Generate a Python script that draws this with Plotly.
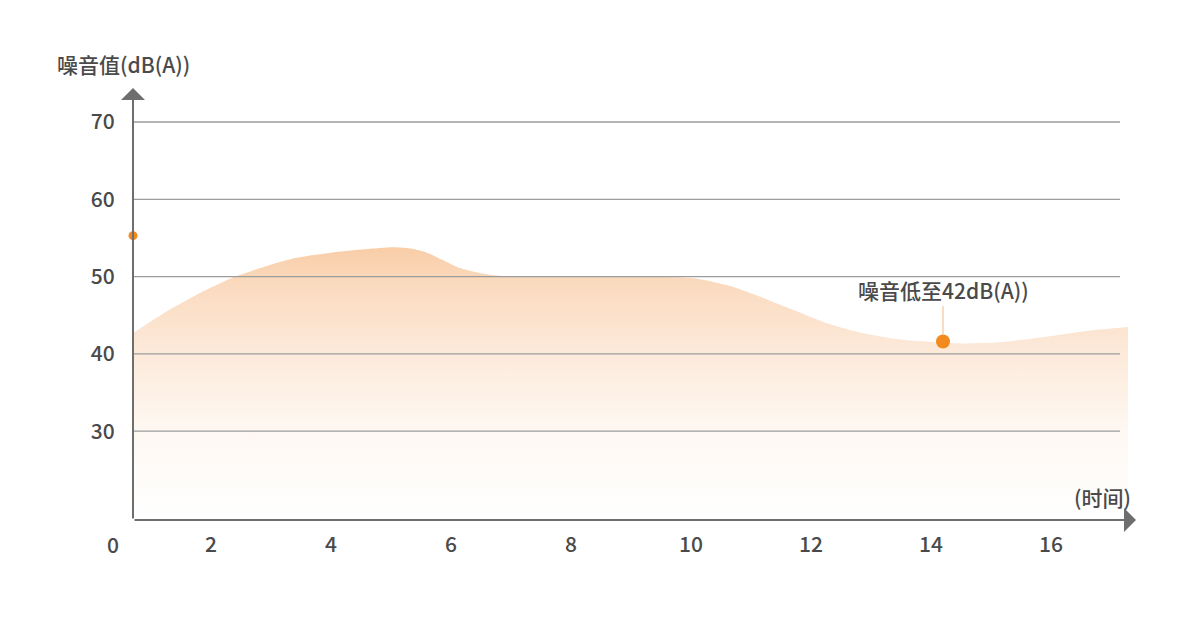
import plotly.graph_objects as go

# ---- data ----
time_pts = [0.7, 1.2, 1.8, 2.4, 2.9, 3.4, 4.0, 4.5, 5.05, 5.35, 5.6, 5.9, 6.15, 6.45, 6.75,
            7.2, 8.0, 9.0, 9.5, 10.05, 10.6, 11.15, 11.7, 12.25, 12.8, 13.35, 13.9, 14.5,
            15.15, 15.7, 16.3, 16.8, 17.3]
noise_db = [42.7, 45.2, 47.8, 50.0, 51.3, 52.4, 53.1, 53.5, 53.8, 53.6, 53.1, 52.0, 51.1, 50.5,
            50.15, 50.0, 49.95, 49.95, 49.95, 49.8, 48.9, 47.4, 45.7, 44.0, 42.8, 42.0, 41.6,
            41.35, 41.5, 42.0, 42.65, 43.15, 43.5]
start_point = [0.7, 55.3]
low_point = [14.2, 41.6]
low_label = "噪音低至42dB(A))"
y_ticks = [30, 40, 50, 60, 70]
x_ticks = [2, 4, 6, 8, 10, 12, 14, 16]
y_title = "噪音值(dB(A))"
x_title = "(时间)"

FONT = "Noto Sans CJK SC, Noto Sans, sans-serif"
TXT = "#4a4a4a"
AX = "#6e6e6e"
GRID = "#9c9c9c"
ORANGE = "#f28a1d"

OFF = 8  # page body margin
W, H = 1200 - OFF, 617 - OFF
PL, PR, PT, PB = 133, 1128, 88, 520          # plot box in screen pixels
L, R, T, B = PL - OFF, W - (PR - OFF), PT - OFF, H - (PB - OFF)
X0, X1 = 0.7, 0.7 + (PR - PL) / 60.0
Y1 = 70 + (122 - PT) / 7.73
Y0 = 70 - (PB - 122) / 7.73


def fx(px):
    return (px - PL) / (PR - PL)


def fy(py):
    return (PB - py) / (PB - PT)


fig = go.Figure()

fig.add_trace(go.Scatter(
    x=time_pts, y=noise_db, mode="lines",
    line=dict(width=0, shape="spline", smoothing=0.6),
    fill="tozeroy",
    fillgradient=dict(
        type="vertical", start=Y0, stop=54,
        colorscale=[[0.0, "rgba(240,135,45,0.0)"],
                    [0.12, "rgba(240,135,45,0.02)"],
                    [0.32, "rgba(240,135,45,0.06)"],
                    [0.6, "rgba(240,135,45,0.17)"],
                    [0.85, "rgba(240,135,45,0.30)"],
                    [1.0, "rgba(240,135,45,0.42)"]]),
    hoverinfo="skip", showlegend=False,
))

fig.add_trace(go.Scatter(
    x=[start_point[0]], y=[start_point[1]], mode="markers",
    marker=dict(size=9, color=ORANGE), cliponaxis=False, showlegend=False,
))
fig.add_trace(go.Scatter(
    x=[low_point[0]], y=[low_point[1]], mode="markers",
    marker=dict(size=14, color=ORANGE), cliponaxis=False, showlegend=False,
))

shapes = []
for v in y_ticks:
    shapes.append(dict(type="line", xref="x", yref="y", x0=X0, x1=0.7 + (1120 - PL) / 60.0,
                       y0=v, y1=v, line=dict(color=GRID, width=1.3), layer="above"))
fig.update_layout(shapes=shapes)

annotations = [
    # y axis with arrow
    dict(xref="paper", yref="paper", x=0, y=fy(88), ax=0, ay=PB - 88,
         text="", showarrow=True, arrowhead=1,
         arrowsize=2.0, arrowwidth=2, arrowcolor=AX),
    # x axis with arrow
    dict(xref="paper", yref="paper", x=fx(1136), y=0, ax=-(1136 - PL), ay=0,
         text="", showarrow=True, arrowhead=1, arrowsize=2.0, arrowwidth=2, arrowcolor=AX),
    dict(xref="paper", yref="paper", x=fx(113), y=fy(544), xanchor="center", yanchor="middle",
         text="0", showarrow=False, font=dict(family=FONT, size=21, color=TXT, weight=500)),
    dict(xref="paper", yref="paper", x=fx(123), y=fy(64), xanchor="center", yanchor="middle",
         text=y_title, showarrow=False, font=dict(family=FONT, size=21, color=TXT, weight=500)),
    dict(xref="paper", yref="paper", x=fx(1102), y=fy(497), xanchor="center", yanchor="middle",
         text=x_title, showarrow=False, font=dict(family=FONT, size=21, color=TXT, weight=500)),
    dict(x=low_point[0], y=low_point[1], text=low_label, showarrow=True, arrowhead=0,
         ax=0, ay=-52, standoff=7, arrowcolor="#f6c69a", arrowwidth=1.2,
         font=dict(family=FONT, size=21, color=TXT, weight=500)),
]
fig.update_layout(annotations=annotations)

fig.update_layout(
    width=W, height=H,
    margin=dict(l=L, r=R, t=T, b=B),
    paper_bgcolor="white", plot_bgcolor="white",
    font=dict(family=FONT, color=TXT),
    showlegend=False,
    xaxis=dict(range=[X0, X1], tickvals=x_ticks, ticktext=[str(v) for v in x_ticks],
               showgrid=False, zeroline=False, showline=False,
               ticks="outside", ticklen=6, tickcolor="rgba(0,0,0,0)",
               tickfont=dict(family=FONT, size=21, color=TXT, weight=500)),
    yaxis=dict(range=[Y0, Y1], tickvals=y_ticks, ticktext=[str(v) for v in y_ticks],
               showgrid=False, zeroline=False, showline=False,
               ticks="outside", ticklen=13, tickcolor="rgba(0,0,0,0)",
               tickfont=dict(family=FONT, size=21, color=TXT, weight=500)),
)

fig.write_html("out.html")
